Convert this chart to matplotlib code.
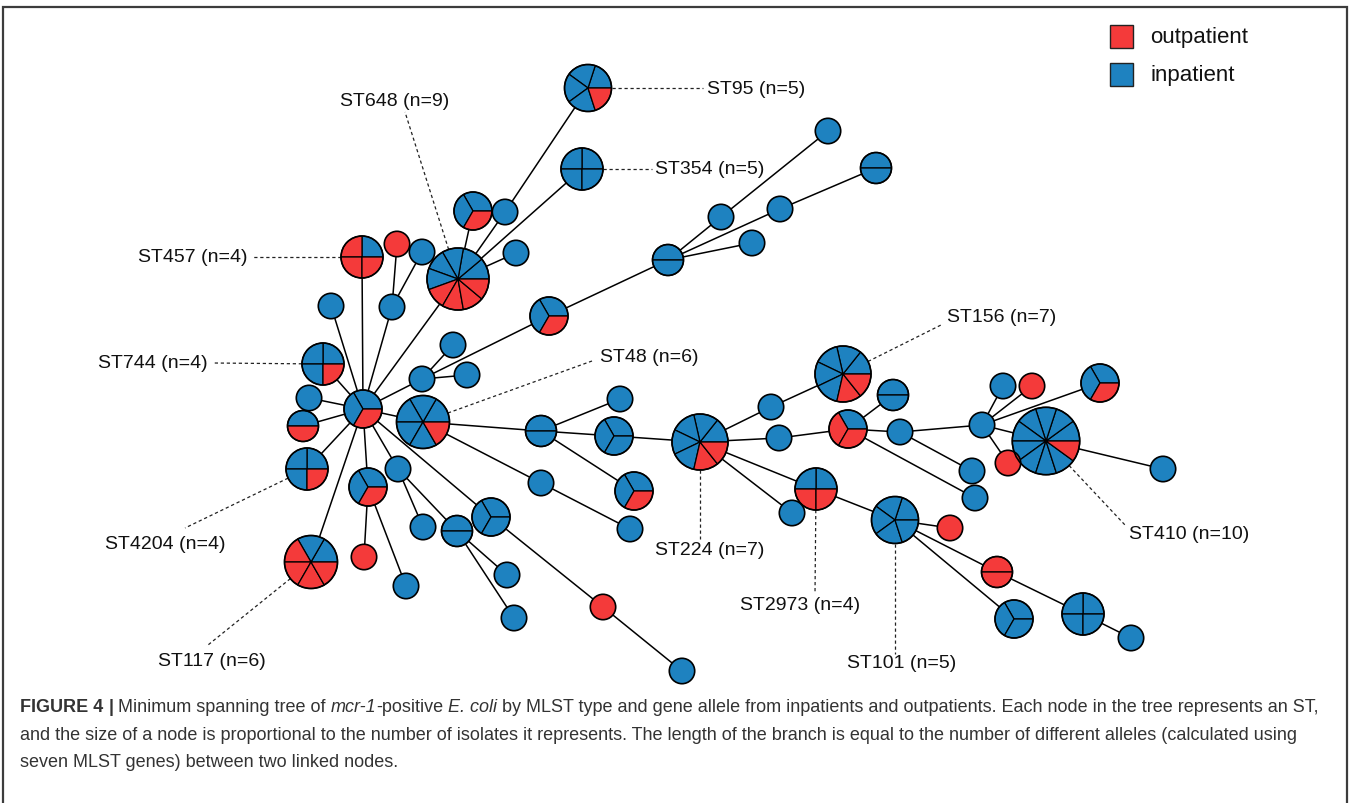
import numpy as np
import matplotlib
matplotlib.use("Agg")
import matplotlib.pyplot as plt
from matplotlib.patches import Wedge, Circle, Rectangle

# ---------------- data ----------------
# layout position of each ST node (pixel-like layout units), isolate counts per node
node_x = [363, 323, 309, 303, 307, 362, 331, 397, 422, 392,
          458, 473, 505, 588, 582, 516, 549, 668, 721, 828,
          780, 876, 752, 422, 453, 467, 423, 541, 620, 614,
          634, 541, 630, 311, 368, 364, 406, 398, 423, 457,
          507, 514, 491, 603, 682, 700, 771, 779, 816, 792,
          895, 843, 848, 893, 900, 972, 975, 982, 1003, 1032,
          1100, 1046, 1008, 1163, 950, 997, 1014, 1083, 1131]
node_y = [410, 365, 399, 427, 470, 258, 307, 245, 253, 308,
          280, 212, 213, 89, 170, 254, 317, 261, 218, 132,
          210, 169, 244, 380, 346, 376, 423, 432, 400, 437,
          492, 484, 530, 563, 488, 558, 587, 470, 528, 532,
          576, 619, 518, 608, 672, 443, 408, 439, 490, 514,
          521, 375, 430, 396, 433, 472, 499, 426, 387, 387,
          384, 442, 464, 470, 529, 573, 620, 615, 639]
inpatient = [2, 3, 1, 1, 3, 1, 1, 0, 1, 1,
             5, 2, 1, 4, 4, 1, 2, 2, 1, 1,
             1, 2, 1, 1, 1, 1, 5, 2, 1, 3,
             2, 1, 1, 2, 2, 0, 1, 1, 1, 2,
             1, 1, 3, 0, 1, 5, 1, 1, 2, 1,
             5, 5, 1, 2, 1, 1, 1, 1, 1, 0,
             2, 9, 0, 1, 0, 0, 3, 4, 1]
outpatient = [1, 1, 0, 1, 1, 3, 0, 1, 0, 0,
              4, 1, 0, 1, 0, 0, 1, 0, 0, 0,
              0, 0, 0, 0, 0, 0, 1, 0, 0, 0,
              1, 0, 0, 4, 1, 1, 0, 0, 0, 0,
              0, 0, 0, 1, 0, 2, 0, 0, 2, 0,
              0, 2, 2, 0, 0, 0, 0, 0, 0, 1,
              1, 1, 1, 0, 1, 2, 0, 0, 0]
edges = [(0, 1), (0, 2), (0, 3), (0, 4), (0, 5), (0, 6), (0, 9), (0, 10),
         (0, 23), (0, 26), (0, 33), (0, 34), (0, 37), (0, 42),
         (9, 7), (9, 8), (10, 11), (10, 12), (10, 14), (10, 15), (12, 13),
         (23, 16), (16, 17), (17, 18), (17, 22), (17, 20), (18, 19), (20, 21),
         (23, 24), (23, 25), (26, 27), (26, 31), (27, 28), (27, 29), (27, 30),
         (29, 45), (31, 32), (34, 35), (34, 36), (37, 38), (37, 39),
         (39, 40), (39, 41), (42, 43), (43, 44),
         (45, 46), (46, 51), (45, 47), (47, 52), (45, 48), (45, 49), (48, 50),
         (52, 53), (52, 54), (52, 56), (54, 55), (54, 57),
         (57, 58), (57, 59), (57, 60), (57, 61), (57, 62), (61, 63),
         (50, 64), (50, 65), (50, 66), (65, 67), (67, 68)]
st_labels = {13: "ST95 (n=5)", 10: "ST648 (n=9)", 14: "ST354 (n=5)",
             5: "ST457 (n=4)", 1: "ST744 (n=4)", 26: "ST48 (n=6)",
             51: "ST156 (n=7)", 4: "ST4204 (n=4)", 45: "ST224 (n=7)",
             48: "ST2973 (n=4)", 50: "ST101 (n=5)", 61: "ST410 (n=10)",
             33: "ST117 (n=6)"}
legend_labels = ["outpatient", "inpatient"]

# ---------------- style / layout ----------------
RED = "#F43A3A"
BLUE = "#1E82C0"
radius_by_n = {1: 12.7, 2: 15.5, 3: 19.0, 4: 21.0, 5: 23.5, 6: 26.5,
               7: 28.0, 8: 29.5, 9: 31.0, 10: 33.7}
# label layout: node -> (text x, text y, ha, leader end x, leader end y)
label_layout = {13: (707, 89, "left", 703, 89),
                10: (395, 101, "center", 405, 113),
                14: (655, 170, "left", 652, 170),
                5: (248, 258, "right", 253, 258),
                1: (208, 364, "right", 213, 364),
                26: (600, 358, "left", 592, 362),
                51: (947, 318, "left", 943, 325),
                4: (165, 545, "center", 185, 529),
                45: (710, 551, "center", 700, 540),
                48: (800, 606, "center", 815, 595),
                50: (902, 664, "center", 895, 655),
                61: (1189, 535, "center", 1125, 526),
                33: (212, 662, "center", 208, 646)}

W, H = 1357, 804
fig = plt.figure(figsize=(W / 100, H / 100), dpi=100)
ax = fig.add_axes([0, 0, 1, 1])
ax.set_xlim(0, W)
ax.set_ylim(H, 0)
ax.axis("off")

LABEL_FONT = ["Liberation Sans", "DejaVu Sans"]

# figure frame
ax.plot([3, 3, 1347, 1347], [H + 5, 8, 8, H + 5], color="#3c3c3c", lw=1.6,
        solid_joinstyle="miter", zorder=1, clip_on=False)

# edges
for a, b in edges:
    ax.plot([node_x[a], node_x[b]], [node_y[a], node_y[b]], color="black",
            lw=1.1, zorder=2, solid_capstyle="butt")

# nodes (pies)
for i in range(len(node_x)):
    x, y = node_x[i], node_y[i]
    nb, nr = inpatient[i], outpatient[i]
    n = nb + nr
    r = radius_by_n[n]
    cols = [BLUE] * nb + [RED] * nr
    if n == 1:
        ax.add_patch(Circle((x, y), r, facecolor=cols[0], edgecolor="none", zorder=3))
    else:
        step = 360.0 / n
        for k, c in enumerate(cols):
            a0, a1 = k * step, (k + 1) * step  # visual counter-clockwise
            ax.add_patch(Wedge((x, y), r, -a1, -a0, facecolor=c, edgecolor="black",
                               lw=0.9, zorder=3))
    ax.add_patch(Circle((x, y), r, facecolor="none", edgecolor="black", lw=1.2, zorder=4))

# ST labels with dashed leaders
for i, (tx, ty, ha, lx, ly) in label_layout.items():
    n = inpatient[i] + outpatient[i]
    r = radius_by_n[n]
    x, y = node_x[i], node_y[i]
    d = np.hypot(lx - x, ly - y)
    sx, sy = x + r * (lx - x) / d, y + r * (ly - y) / d
    ax.plot([sx, lx], [sy, ly], color="#222222", lw=0.9, ls=(0, (2.6, 2.2)), zorder=1.5)
    ax.text(tx, ty, st_labels[i], ha=ha, va="center", fontsize=14,
            family=LABEL_FONT, color="#111111", zorder=5)

# legend
for k, (lab, col) in enumerate(zip(legend_labels, [RED, BLUE])):
    y0 = 26 + k * 38
    ax.add_patch(Rectangle((1110, y0), 23, 23, facecolor=col, edgecolor="#222222",
                           lw=1.0, zorder=5))
    ax.text(1150, y0 + 11.5, lab, ha="left", va="center", fontsize=16,
            family=LABEL_FONT, color="#111111")

# caption
renderer = fig.canvas.get_renderer()
CAP_COLOR = "#333333"
cap_lines = [
    [("FIGURE 4", "bold", "normal"), ("|", "bold", "normal"),
     ("Minimum spanning tree of", "normal", "normal"), ("mcr-1", "normal", "italic"),
     ("-positive", "normal", "normal"), ("E. coli", "normal", "italic"),
     ("by MLST type and gene allele from inpatients and outpatients. Each node in the tree represents an ST,",
      "normal", "normal")],
    [("and the size of a node is proportional to the number of isolates it represents. The length of the branch is equal to the number of different alleles (calculated using",
      "normal", "normal")],
    [("seven MLST genes) between two linked nodes.", "normal", "normal")],
]
space_before = [[False, True, True, True, False, True, True], [False], [False]]
baselines = [712, 740, 767]
CAP_FONT = ["Liberation Sans", "DejaVu Sans"]


def measure(s, fs, weight="normal", style="normal"):
    t = ax.text(0, 0, s, fontsize=fs, family=CAP_FONT, weight=weight, style=style)
    w = t.get_window_extent(renderer).width
    t.remove()
    return w


def line_width(pieces, spaces, fs):
    sp = measure("a a", fs) - measure("aa", fs)
    tot = 0
    for (s, wt, st), has in zip(pieces, spaces):
        if has:
            tot += sp
        tot += measure(s, fs, wt, st)
    return tot


fs0 = 12.0
w0 = line_width(cap_lines[0], space_before[0], fs0)
cap_fs = fs0 * (1322 - 20) / w0
space_w = measure("a a", cap_fs) - measure("aa", cap_fs)
for pieces, spaces, yb in zip(cap_lines, space_before, baselines):
    x = 20
    for (s, wt, st), has in zip(pieces, spaces):
        if has:
            x += space_w
        t = ax.text(x, yb, s, fontsize=cap_fs, family=CAP_FONT, weight=wt, style=st,
                    color=CAP_COLOR, ha="left", va="baseline")
        x += t.get_window_extent(renderer).width

fig.savefig("out.png", dpi=100, facecolor="white")
